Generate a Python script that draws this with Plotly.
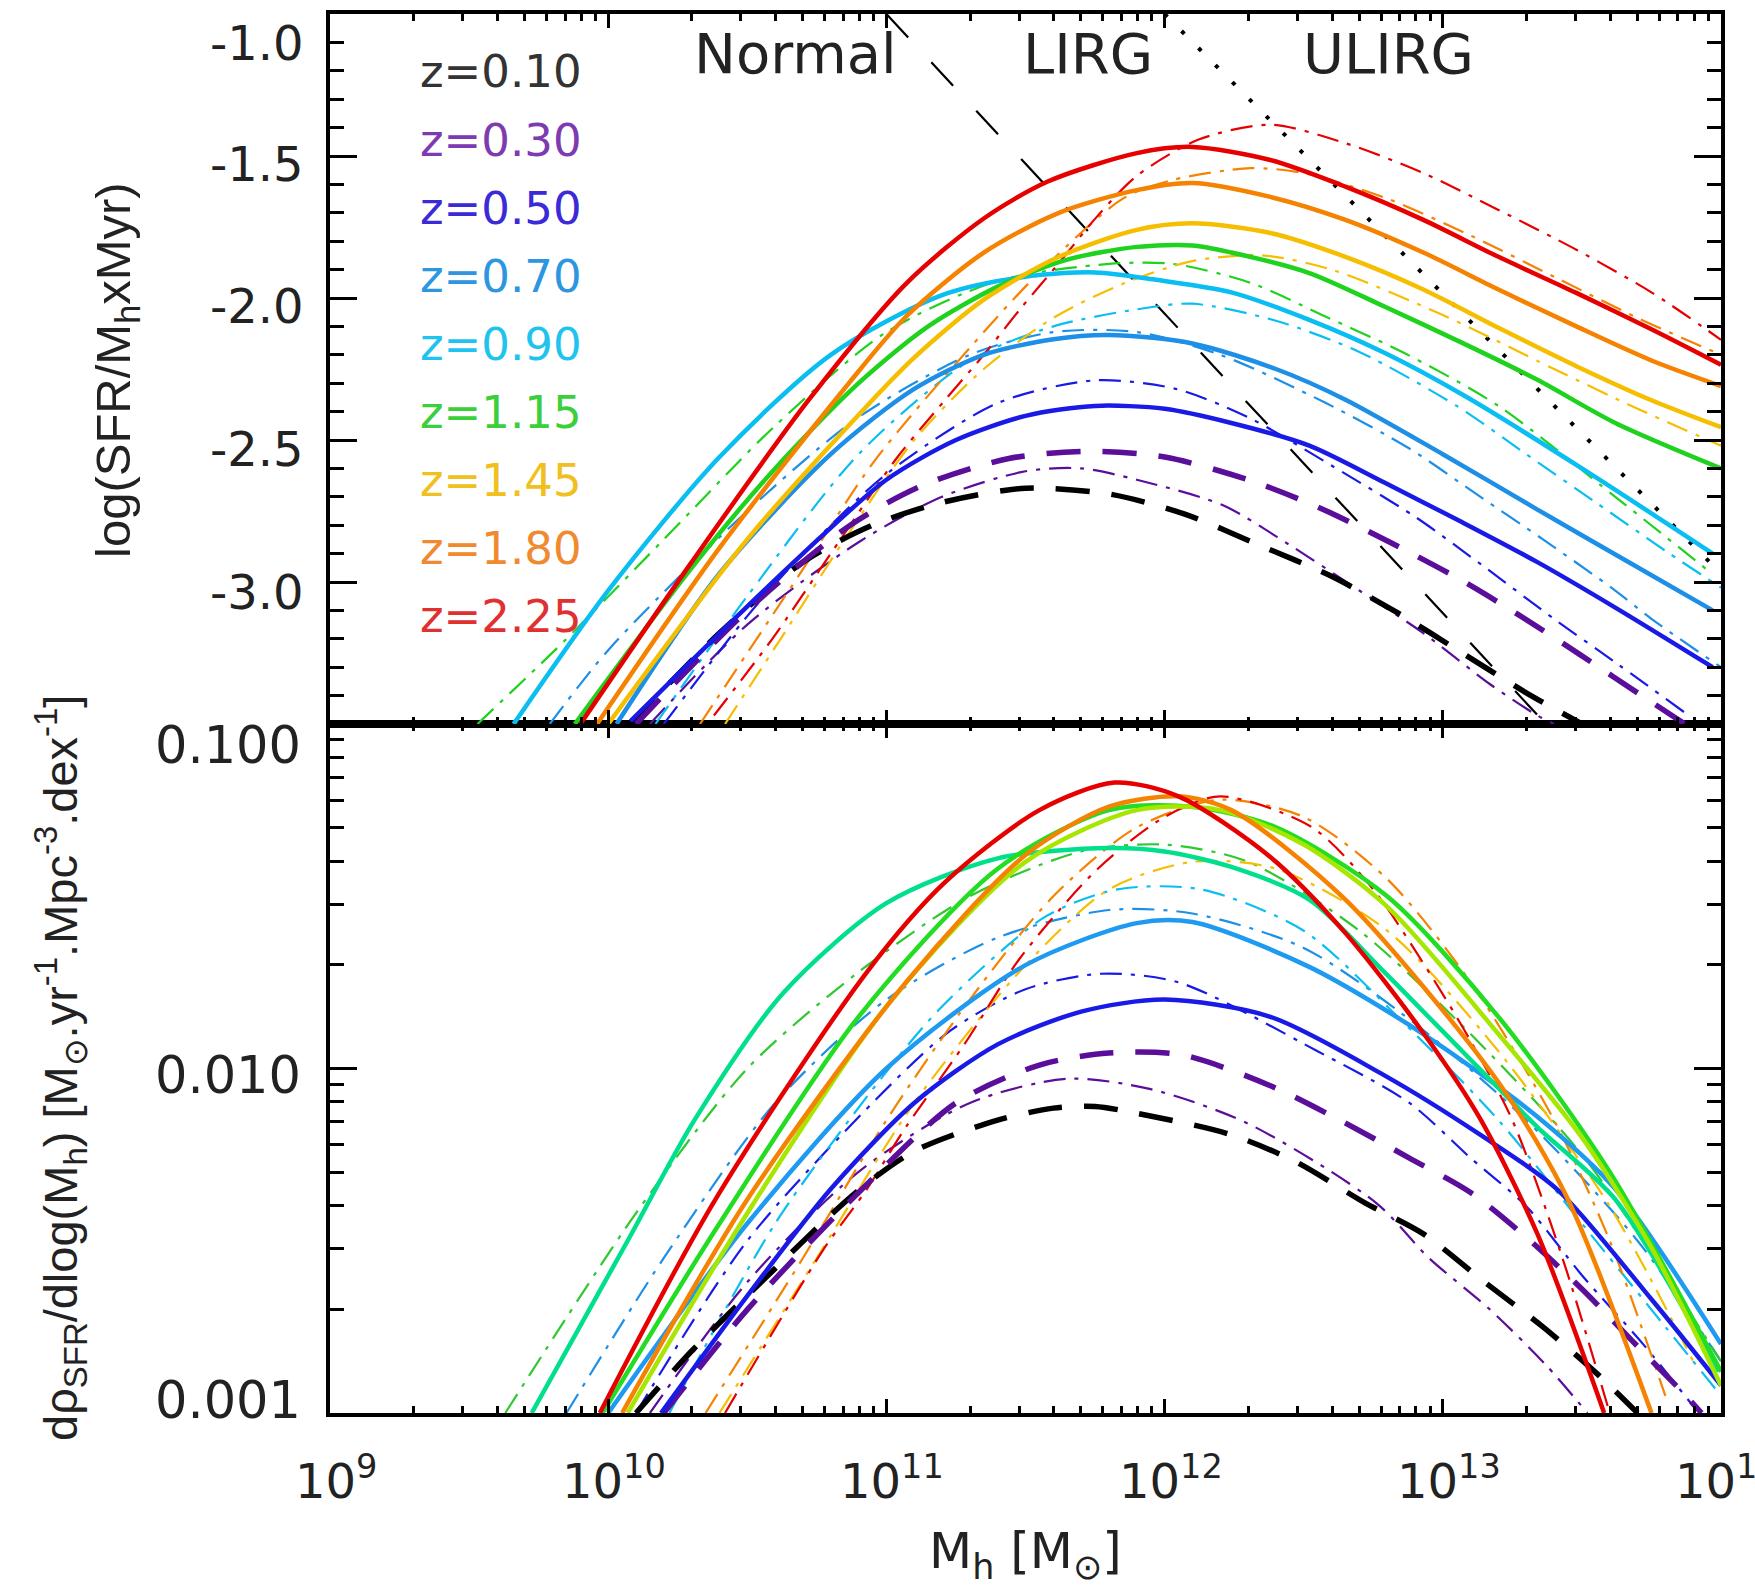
import math
import plotly.graph_objects as go

# ---------------- data ----------------
# Halo mass is stored as log10(Mh); plotted on a log axis as 10**logM.
REDSHIFT_LABELS = ["z=0.10", "z=0.30", "z=0.50", "z=0.70", "z=0.90",
                   "z=1.15", "z=1.45", "z=1.80", "z=2.25"]
LEGEND_COLORS = ["#333333", "#7E3AB0", "#3A2AD8", "#2C96E0", "#1EC4EE",
                 "#3CCF3C", "#F0C020", "#F08A30", "#E03030"]
TOP_COLORS = ["#000000", "#5A0E9A", "#1A1AE6", "#1E8FE6", "#0ABEF2",
              "#1ED21E", "#F5BE00", "#F58200", "#E60000"]
BOT_COLORS = ["#000000", "#5A0E9A", "#1A1AE6", "#1E9AF0", "#00E08C",
              "#22DD22", "#A6E600", "#F58200", "#E60000"]
BOT_DD_COLORS = ["#000000", "#5A0E9A", "#1A1AE6", "#1E8FE6", "#0ABEF2",
                 "#30C830", "#F5BE00", "#F58200", "#E60000"]

# --- top panel: log(SFR/Mh x Myr) ---
T_Z010_DASH_M = [10.08, 10.4, 10.7, 10.95, 11.2, 11.5, 11.8, 12.07, 12.34, 12.6, 12.84, 13.07, 13.3, 13.5]
T_Z010_DASH_Y = [-3.5, -3.18, -2.93, -2.8, -2.72, -2.67, -2.69, -2.76, -2.87, -2.98, -3.11, -3.25, -3.39, -3.5]
T_Z030_DASH_M = [10.1, 10.5, 10.87, 11.13, 11.44, 11.73, 12.0, 12.3, 12.56, 12.81, 13.06, 13.28, 13.5, 13.73, 13.87]
T_Z030_DASH_Y = [-3.5, -3.1, -2.8, -2.66, -2.565, -2.54, -2.56, -2.64, -2.74, -2.86, -2.99, -3.12, -3.26, -3.41, -3.5]
T_Z030_DD_M = [10.15, 10.5, 10.9, 11.2, 11.5, 11.7, 11.9, 12.21, 12.45, 12.7, 12.93, 13.17, 13.34, 13.4]
T_Z030_DD_Y = [-3.5, -3.15, -2.86, -2.7, -2.61, -2.6, -2.64, -2.73, -2.87, -3.03, -3.18, -3.36, -3.47, -3.5]
T_Z050_SOLID_M = [10.08, 10.38, 10.7, 11.0, 11.25, 11.5, 11.75, 12.0, 12.24, 12.52, 12.79, 13.07, 13.34, 13.62, 13.97]
T_Z050_SOLID_Y = [-3.49, -3.2, -2.9, -2.64, -2.5, -2.415, -2.38, -2.39, -2.44, -2.52, -2.65, -2.79, -2.93, -3.09, -3.3]
T_Z050_DD_M = [10.2, 10.5, 10.7, 11.0, 11.4, 11.75, 12.04, 12.3, 12.6, 12.9, 13.14, 13.4, 13.63, 13.87]
T_Z050_DD_Y = [-3.5, -3.12, -2.9, -2.62, -2.37, -2.29, -2.32, -2.42, -2.59, -2.77, -2.94, -3.13, -3.29, -3.46]
T_Z070_SOLID_M = [10.03, 10.4, 10.8, 11.1, 11.35, 11.6, 11.8, 12.1, 12.4, 12.65, 13.0, 13.34, 13.65, 13.97]
T_Z070_SOLID_Y = [-3.5, -2.97, -2.55, -2.32, -2.2, -2.145, -2.13, -2.16, -2.25, -2.358, -2.55, -2.745, -2.92, -3.1]
T_Z070_DD_M = [9.79, 10.0, 10.5, 10.9, 11.3, 11.6, 11.9, 12.2, 12.58, 12.88, 13.12, 13.36, 13.62, 13.75, 14.0]
T_Z070_DD_Y = [-3.5, -3.24, -2.75, -2.42, -2.2, -2.12, -2.12, -2.2, -2.37, -2.53, -2.69, -2.85, -3.03, -3.13, -3.3]
T_Z090_SOLID_M = [9.66, 10.0, 10.4, 10.8, 11.2, 11.5, 11.75, 11.97, 12.24, 12.52, 12.79, 13.07, 13.5, 13.97]
T_Z090_SOLID_Y = [-3.5, -3.03, -2.56, -2.2, -1.99, -1.925, -1.91, -1.936, -1.98, -2.077, -2.193, -2.34, -2.6, -2.9]
T_Z090_DD_M = [10.17, 10.5, 10.9, 11.3, 11.6, 11.9, 12.1, 12.4, 12.7, 13.05, 13.3, 13.55, 13.8, 14.0]
T_Z090_DD_Y = [-3.5, -3.05, -2.55, -2.22, -2.1, -2.04, -2.02, -2.08, -2.19, -2.38, -2.55, -2.72, -2.89, -3.02]
T_Z115_SOLID_M = [9.88, 10.3, 10.6, 10.9, 11.15, 11.4, 11.65, 11.9, 12.1, 12.24, 12.52, 12.79, 13.07, 13.34, 13.62, 14.0]
T_Z115_SOLID_Y = [-3.5, -2.95, -2.6, -2.3, -2.1, -1.96, -1.865, -1.82, -1.815, -1.84, -1.912, -2.03, -2.158, -2.288, -2.44, -2.6]
T_Z115_DD_M = [9.53, 9.84, 10.2, 10.6, 11.0, 11.4, 11.8, 12.03, 12.31, 12.58, 12.86, 13.2, 13.62, 13.95]
T_Z115_DD_Y = [-3.5, -3.21, -2.85, -2.45, -2.12, -1.94, -1.88, -1.88, -1.947, -2.066, -2.193, -2.38, -2.7, -2.957]
T_Z145_SOLID_M = [10.0, 10.5, 10.93, 11.1, 11.35, 11.62, 11.9, 12.1, 12.38, 12.65, 12.93, 13.2, 13.48, 13.75, 14.0]
T_Z145_SOLID_Y = [-3.5, -2.85, -2.38, -2.21, -2.006, -1.855, -1.76, -1.737, -1.771, -1.855, -1.97, -2.105, -2.24, -2.36, -2.455]
T_Z145_DD_M = [10.42, 10.62, 10.85, 11.1, 11.35, 11.6, 11.85, 12.1, 12.35, 12.6, 13.0, 13.4, 13.7, 14.0]
T_Z145_DD_Y = [-3.5, -3.2, -2.85, -2.5, -2.25, -2.07, -1.95, -1.87, -1.85, -1.9, -2.06, -2.25, -2.39, -2.52]
T_Z180_SOLID_M = [9.96, 10.4, 10.865, 11.07, 11.35, 11.62, 11.9, 12.1, 12.38, 12.65, 12.93, 13.2, 13.48, 13.75, 14.0]
T_Z180_SOLID_Y = [-3.5, -2.88, -2.30, -2.066, -1.84, -1.70, -1.62, -1.595, -1.644, -1.725, -1.84, -1.97, -2.10, -2.22, -2.31]
T_Z180_DD_M = [10.33, 10.69, 10.96, 11.35, 11.55, 11.85, 12.03, 12.31, 12.5, 12.8, 13.1, 13.41, 13.7, 14.0]
T_Z180_DD_Y = [-3.5, -2.97, -2.57, -2.12, -1.91, -1.65, -1.584, -1.543, -1.56, -1.65, -1.78, -1.93, -2.07, -2.2]
T_Z225_SOLID_M = [9.9, 10.3, 10.72, 11.07, 11.35, 11.58, 11.9, 12.1, 12.38, 12.65, 12.93, 13.2, 13.48, 13.75, 14.0]
T_Z225_SOLID_Y = [-3.5, -2.93, -2.36, -1.95, -1.72, -1.59, -1.49, -1.468, -1.514, -1.608, -1.725, -1.855, -1.982, -2.11, -2.235]
T_Z225_DD_M = [10.38, 10.59, 10.8, 11.04, 11.21, 11.35, 11.48, 11.62, 11.76, 11.9, 12.12, 12.38, 12.65, 12.93, 13.2, 13.48, 13.75, 14.0]
T_Z225_DD_Y = [-3.47, -3.2, -2.9, -2.56, -2.36, -2.2, -2.04, -1.877, -1.71, -1.57, -1.443, -1.39, -1.455, -1.56, -1.69, -1.83, -1.98, -2.147]

# LIRG / ULIRG thresholds (constant SFR lines)
LIRG_M = [11.0, 13.37]
LIRG_Y = [-1.0, -3.5]
ULIRG_M = [12.0, 14.0]
ULIRG_Y = [-1.0, -2.97]
REGION_LABELS = ["Normal", "LIRG", "ULIRG"]

# --- bottom panel: log10 of d rho_SFR / dlog(Mh) ---
B_Z010_DASH_M = [10.1, 10.3, 10.55, 10.89, 11.1, 11.4, 11.6, 11.75, 11.9, 12.23, 12.47, 12.72, 12.93, 13.15, 13.36, 13.56, 13.7]
B_Z010_DASH_Y = [-3.0, -2.82, -2.62, -2.36, -2.24, -2.15, -2.115, -2.11, -2.13, -2.19, -2.27, -2.39, -2.48, -2.62, -2.75, -2.89, -3.0]
B_Z030_DASH_M = [10.2, 10.5, 10.9, 11.25, 11.55, 11.8, 12.06, 12.38, 12.63, 12.88, 13.1, 13.3, 13.5, 13.68, 13.85, 13.93]
B_Z030_DASH_Y = [-3.0, -2.7, -2.36, -2.1, -1.99, -1.955, -1.96, -2.05, -2.15, -2.26, -2.36, -2.49, -2.64, -2.79, -2.93, -3.0]
B_Z030_DD_M = [10.15, 10.5, 10.9, 11.3, 11.65, 11.95, 12.3, 12.76, 12.95, 13.17, 13.37, 13.52]
B_Z030_DD_Y = [-3.0, -2.62, -2.3, -2.1, -2.03, -2.06, -2.16, -2.39, -2.55, -2.7, -2.86, -3.0]
B_Z050_SOLID_M = [10.19, 10.5, 10.8, 11.1, 11.4, 11.7, 12.0, 12.38, 12.79, 13.13, 13.41, 13.75, 14.0]
B_Z050_SOLID_Y = [-3.0, -2.66, -2.35, -2.1, -1.93, -1.835, -1.80, -1.85, -2.02, -2.19, -2.35, -2.67, -2.92]
B_Z050_DD_M = [10.1, 10.5, 10.95, 11.23, 11.5, 11.77, 12.05, 12.55, 12.88, 13.1, 13.3, 13.5, 13.72, 13.9]
B_Z050_DD_Y = [-3.0, -2.5, -2.1, -1.89, -1.77, -1.725, -1.75, -1.95, -2.1, -2.26, -2.4, -2.6, -2.8, -2.98]
B_Z070_SOLID_M = [10.0, 10.5, 11.0, 11.5, 11.9, 12.1, 12.52, 12.93, 13.34, 13.62, 14.0]
B_Z070_SOLID_Y = [-3.0, -2.45, -2.0, -1.7, -1.578, -1.575, -1.705, -1.9, -2.14, -2.35, -2.8]
B_Z070_DD_M = [9.85, 10.2, 10.6, 11.0, 11.4, 11.8, 12.1, 12.5, 12.9, 13.3, 13.7, 14.0]
B_Z070_DD_Y = [-3.0, -2.55, -2.1, -1.8, -1.62, -1.54, -1.55, -1.65, -1.87, -2.15, -2.5, -2.85]
B_Z090_SOLID_M = [9.725, 10.07, 10.31, 10.63, 11.0, 11.4, 11.8, 12.0, 12.24, 12.52, 12.79, 13.07, 13.34, 13.62, 13.99]
B_Z090_SOLID_Y = [-3.0, -2.5, -2.15, -1.78, -1.52, -1.39, -1.36, -1.37, -1.415, -1.51, -1.72, -1.95, -2.17, -2.38, -2.88]
B_Z090_DD_M = [10.22, 10.6, 10.98, 11.2, 11.57, 11.83, 12.13, 12.5, 12.85, 13.2, 13.5, 13.8, 14.0]
B_Z090_DD_Y = [-3.0, -2.45, -2.03, -1.82, -1.56, -1.48, -1.48, -1.6, -1.86, -2.15, -2.45, -2.75, -2.95]
B_Z115_SOLID_M = [9.98, 10.4, 10.9, 11.4, 11.8, 12.1, 12.4, 12.8, 13.2, 13.6, 14.0]
B_Z115_SOLID_Y = [-3.0, -2.45, -1.85, -1.42, -1.25, -1.24, -1.3, -1.5, -1.85, -2.3, -2.88]
B_Z115_DD_M = [9.63, 10.1, 10.5, 10.9, 11.3, 11.7, 12.0, 12.3, 12.7, 13.1, 13.5, 13.8, 14.0]
B_Z115_DD_Y = [-3.0, -2.42, -2.0, -1.72, -1.5, -1.37, -1.35, -1.4, -1.6, -1.9, -2.25, -2.6, -2.85]
B_Z145_SOLID_M = [10.07, 10.5, 11.0, 11.5, 11.9, 12.2, 12.5, 12.8, 13.2, 13.5, 13.75, 14.0]
B_Z145_SOLID_Y = [-3.0, -2.42, -1.82, -1.40, -1.25, -1.25, -1.35, -1.53, -1.9, -2.2, -2.52, -2.92]
B_Z145_DD_M = [10.4, 10.75, 11.1, 11.5, 11.8, 12.1, 12.4, 12.8, 13.2, 13.6, 13.9]
B_Z145_DD_Y = [-3.0, -2.55, -2.1, -1.7, -1.48, -1.4, -1.42, -1.6, -1.95, -2.4, -2.85]
B_Z180_SOLID_M = [10.05, 10.5, 11.07, 11.5, 11.8, 12.05, 12.24, 12.65, 13.2, 13.45, 13.75]
B_Z180_SOLID_Y = [-3.0, -2.38, -1.75, -1.38, -1.24, -1.21, -1.25, -1.51, -2.04, -2.38, -3.0]
B_Z180_DD_M = [10.35, 10.7, 11.0, 11.3, 11.6, 11.9, 12.2, 12.5, 12.8, 13.1, 13.4, 13.6, 13.8]
B_Z180_DD_Y = [-3.0, -2.55, -2.15, -1.8, -1.5, -1.3, -1.22, -1.27, -1.45, -1.75, -2.15, -2.5, -2.95]
B_Z225_SOLID_M = [9.97, 10.384, 10.93, 11.21, 11.55, 11.82, 12.05, 12.38, 12.65, 12.93, 13.13, 13.34, 13.58]
B_Z225_SOLID_Y = [-3.0, -2.382, -1.72, -1.46, -1.25, -1.17, -1.21, -1.386, -1.607, -1.897, -2.14, -2.48, -3.0]
B_Z225_DD_M = [10.42, 10.77, 10.93, 11.07, 11.28, 11.48, 11.76, 12.0, 12.2, 12.53, 12.75, 12.95, 13.1, 13.25, 13.43, 13.6]
B_Z225_DD_Y = [-3.0, -2.53, -2.35, -2.17, -1.93, -1.68, -1.42, -1.27, -1.21, -1.3, -1.48, -1.72, -1.92, -2.15, -2.55, -3.0]

TOP_YTICKS = [-1.0, -1.5, -2.0, -2.5, -3.0]
TOP_YTICK_TEXT = ["-1.0", "-1.5", "-2.0", "-2.5", "-3.0"]
BOT_YTICKS = [0.1, 0.01, 0.001]
BOT_YTICK_TEXT = ["0.100", "0.010", "0.001"]
XTICK_EXP = [9, 10, 11, 12, 13, 14]

# ---------------- layout geometry ----------------
W, H = 1755, 1586
X0, X1 = 330, 1721          # plot frame, px
Y_TOP, Y_MID, Y_BOT = 14, 724, 1413
PW, PH = X1 - X0, Y_BOT - Y_TOP
MID = (Y_BOT - Y_MID) / PH


def px_x(x):
    return (x - X0) / PW


def px_y(y):
    return (Y_BOT - y) / PH


SOLID = dict(width=4.5, dash="solid")
DD = dict(width=2.2, dash="22px,9px,4px,9px")
THICK_DASH = dict(width=5.5, dash="34px,22px")

fig = go.Figure()


def add(logm, vals, color, style, panel):
    xs = [10 ** m for m in logm]
    if panel == "bot":
        ys = [10 ** v for v in vals]
        ax = dict(xaxis="x", yaxis="y2")
    else:
        ys = list(vals)
        ax = dict(xaxis="x2", yaxis="y")
    fig.add_trace(go.Scatter(x=xs, y=ys, mode="lines",
                             line=dict(color=color, shape="spline", smoothing=0.8, **style),
                             showlegend=False, hoverinfo="skip", **ax))


# thresholds
add(LIRG_M, LIRG_Y, "#000000", dict(width=2.2, dash="32px,34px"), "top")
add(ULIRG_M, ULIRG_Y, "#000000", dict(width=4.0, dash="4px,20px"), "top")

# top panel
top_dd = [(T_Z030_DD_M, T_Z030_DD_Y, 1), (T_Z050_DD_M, T_Z050_DD_Y, 2), (T_Z070_DD_M, T_Z070_DD_Y, 3),
          (T_Z090_DD_M, T_Z090_DD_Y, 4), (T_Z115_DD_M, T_Z115_DD_Y, 5), (T_Z145_DD_M, T_Z145_DD_Y, 6),
          (T_Z180_DD_M, T_Z180_DD_Y, 7), (T_Z225_DD_M, T_Z225_DD_Y, 8)]
for m, v, i in top_dd:
    add(m, v, TOP_COLORS[i], DD, "top")
add(T_Z010_DASH_M, T_Z010_DASH_Y, TOP_COLORS[0], THICK_DASH, "top")
add(T_Z030_DASH_M, T_Z030_DASH_Y, TOP_COLORS[1], THICK_DASH, "top")
top_solid = [(T_Z050_SOLID_M, T_Z050_SOLID_Y, 2), (T_Z070_SOLID_M, T_Z070_SOLID_Y, 3),
             (T_Z090_SOLID_M, T_Z090_SOLID_Y, 4), (T_Z115_SOLID_M, T_Z115_SOLID_Y, 5),
             (T_Z145_SOLID_M, T_Z145_SOLID_Y, 6), (T_Z180_SOLID_M, T_Z180_SOLID_Y, 7),
             (T_Z225_SOLID_M, T_Z225_SOLID_Y, 8)]
for m, v, i in top_solid:
    add(m, v, TOP_COLORS[i], SOLID, "top")

# bottom panel
bot_dd = [(B_Z030_DD_M, B_Z030_DD_Y, 1), (B_Z050_DD_M, B_Z050_DD_Y, 2), (B_Z070_DD_M, B_Z070_DD_Y, 3),
          (B_Z090_DD_M, B_Z090_DD_Y, 4), (B_Z115_DD_M, B_Z115_DD_Y, 5), (B_Z145_DD_M, B_Z145_DD_Y, 6),
          (B_Z180_DD_M, B_Z180_DD_Y, 7), (B_Z225_DD_M, B_Z225_DD_Y, 8)]
for m, v, i in bot_dd:
    add(m, v, BOT_DD_COLORS[i], DD, "bot")
add(B_Z010_DASH_M, B_Z010_DASH_Y, BOT_COLORS[0], THICK_DASH, "bot")
add(B_Z030_DASH_M, B_Z030_DASH_Y, BOT_COLORS[1], THICK_DASH, "bot")
bot_solid = [(B_Z050_SOLID_M, B_Z050_SOLID_Y, 2), (B_Z070_SOLID_M, B_Z070_SOLID_Y, 3),
             (B_Z090_SOLID_M, B_Z090_SOLID_Y, 4), (B_Z115_SOLID_M, B_Z115_SOLID_Y, 5),
             (B_Z145_SOLID_M, B_Z145_SOLID_Y, 6), (B_Z180_SOLID_M, B_Z180_SOLID_Y, 7),
             (B_Z225_SOLID_M, B_Z225_SOLID_Y, 8)]
for m, v, i in bot_solid:
    add(m, v, BOT_COLORS[i], SOLID, "bot")

# ---------------- axes ----------------
x_major = [10.0 ** e for e in XTICK_EXP]
x_minor = [k * 10.0 ** e for e in range(9, 14) for k in range(2, 10)]
common = dict(showline=True, linecolor="black", linewidth=3.5, mirror="allticks",
              ticks="inside", tickcolor="black", showgrid=False, zeroline=False)
xcommon = dict(type="log", range=[9, 14], tickvals=x_major, ticklen=14, tickwidth=3,
               minor=dict(tickvals=x_minor, ticks="inside", ticklen=7, tickwidth=2.5,
                          tickcolor="black", showgrid=False), **common)

fig.update_layout(
    width=W, height=H,
    margin=dict(l=X0, r=W - X1, t=Y_TOP, b=H - Y_BOT, autoexpand=False),
    paper_bgcolor="white", plot_bgcolor="white",
    font=dict(family="DejaVu Sans", color="#222222"),
    xaxis=dict(anchor="y2", domain=[0, 1], showticklabels=False, **xcommon),
    xaxis2=dict(anchor="y", domain=[0, 1], matches="x", showticklabels=False, **xcommon),
    yaxis=dict(anchor="x2", domain=[MID, 1], range=[-3.5, -1.0],
               tickvals=[-3.5, -3.0, -2.5, -2.0, -1.5, -1.0], ticklen=27, tickwidth=3,
               showticklabels=False,
               minor=dict(dtick=0.1, ticks="inside", ticklen=14, tickwidth=2.5,
                          tickcolor="black", showgrid=False), **common),
    yaxis2=dict(anchor="x", domain=[0, MID], type="log", range=[-3, -1],
                tickvals=BOT_YTICKS, ticklen=27, tickwidth=3, showticklabels=False,
                minor=dict(tickvals=[k * 10.0 ** e for e in (-3, -2) for k in range(2, 10)],
                           ticks="inside", ticklen=14, tickwidth=2.5, tickcolor="black",
                           showgrid=False), **common),
)

ann = []
TICK_FONT = dict(family="DejaVu Sans", size=48, color="#222222")
# y tick labels (end labels pulled inside the frame, as in the original)
top_shift = [-29, -8, -8, -9, -10]
for v, t, s in zip(TOP_YTICKS, TOP_YTICK_TEXT, top_shift):
    ann.append(dict(xref="paper", yref="y", x=px_x(306), y=v, yshift=s, text=t,
                    xanchor="right", yanchor="middle", showarrow=False, font=TICK_FONT))
bot_shift = [-21, -7, 13]
for v, t, s in zip(BOT_YTICKS, BOT_YTICK_TEXT, bot_shift):
    ann.append(dict(xref="paper", yref="y2", x=px_x(303), y=math.log10(v), yshift=s, text=t,
                    xanchor="right", yanchor="middle", showarrow=False,
                    font=dict(family="DejaVu Sans", size=51, color="#222222")))
# x tick labels
for e in XTICK_EXP:
    ann.append(dict(xref="x", yref="paper", x=e, y=px_y(1478), xshift=6,
                    text="10<sup>%d</sup>" % e, xanchor="center", yanchor="middle",
                    showarrow=False, font=TICK_FONT))
# legend text
for i, (lab, col) in enumerate(zip(REDSHIFT_LABELS, LEGEND_COLORS)):
    ann.append(dict(xref="paper", yref="paper", x=px_x(418), y=px_y(72 + 68.1 * i),
                    text=lab, xanchor="left", yanchor="middle", showarrow=False,
                    font=dict(family="DejaVu Sans", size=45, color=col)))
# region labels
for lab, cx in zip(REGION_LABELS, [795, 1088, 1388]):
    ann.append(dict(xref="paper", yref="paper", x=px_x(cx), y=px_y(54), text=lab,
                    xanchor="center", yanchor="middle", showarrow=False,
                    font=dict(family="DejaVu Sans", size=56, color="#222222")))
# axis titles
ann.append(dict(xref="paper", yref="paper", x=px_x(1025), y=px_y(1554),
                text="M<sub>h</sub> [M<sub>⊙</sub>]", xanchor="center", yanchor="middle",
                showarrow=False, font=dict(family="DejaVu Sans", size=50, color="#222222")))
ann.append(dict(xref="paper", yref="paper", x=px_x(116), y=px_y(370), textangle=-90,
                text="log(SFR/M<sub>h</sub>xMyr)", xanchor="center", yanchor="middle",
                showarrow=False, font=dict(family="Liberation Sans", size=49, color="#222222")))
ann.append(dict(xref="paper", yref="paper", x=px_x(60), y=px_y(1068), textangle=-90,
                text="dρ<sub>SFR</sub>/dlog(M<sub>h</sub>) [M<sub>⊙</sub>.yr<sup>-1</sup>.Mpc<sup>-3</sup>.dex<sup>-1</sup>]",
                xanchor="center", yanchor="middle", showarrow=False,
                font=dict(family="Liberation Sans", size=47, color="#222222")))
fig.update_layout(annotations=ann)

fig.write_html("out.html")
